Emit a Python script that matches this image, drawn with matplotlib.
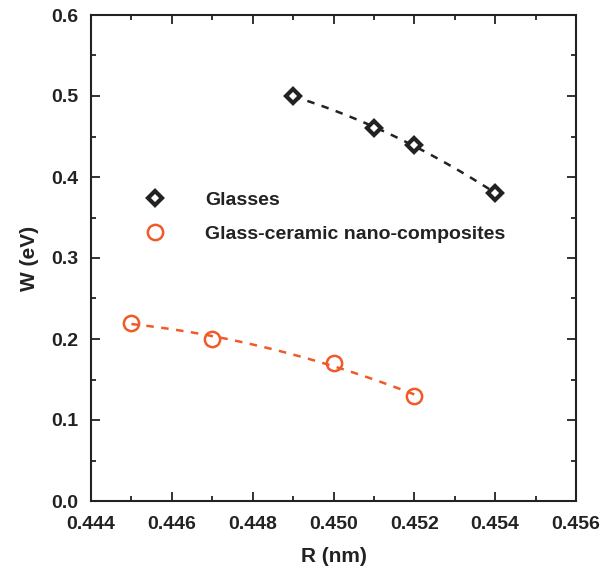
import numpy as np
import matplotlib.pyplot as plt
from matplotlib.ticker import MultipleLocator

# Data
r_glass = [0.449, 0.451, 0.452, 0.454]
w_glass = [0.50, 0.46, 0.44, 0.38]
r_nano = [0.445, 0.447, 0.450, 0.452]
w_nano = [0.22, 0.20, 0.17, 0.13]

black = "#222222"
orange = "#f05a28"

plt.rcParams["font.family"] = ["Liberation Sans", "DejaVu Sans"]
plt.rcParams["font.weight"] = "bold"

fig = plt.figure(figsize=(6.08, 5.68), dpi=100)
ax = fig.add_axes([91 / 608, 1 - 501 / 568, (576 - 91) / 608, (501 - 15) / 568])

# dashed quadratic trend lines through each series
for r, w, c in [(r_glass, w_glass, black), (r_nano, w_nano, orange)]:
    coef = np.polyfit(r, w, 2)
    rr = np.linspace(min(r), max(r), 100)
    ax.plot(rr, np.polyval(coef, rr), linestyle=(0, (3, 3)), color=c, linewidth=1.8)

ax.plot(r_glass, w_glass, linestyle="none", marker="D", markersize=7.5,
        markerfacecolor="white", markeredgecolor=black, markeredgewidth=3.0,
        label="Glasses")
ax.plot(r_nano, w_nano, linestyle="none", marker="o", markersize=11,
        markerfacecolor="none", markeredgecolor=orange, markeredgewidth=1.8,
        label="Glass-ceramic nano-composites")

ax.set_xlim(0.444, 0.456)
ax.set_ylim(0.0, 0.6)
ax.xaxis.set_major_locator(MultipleLocator(0.002))
ax.xaxis.set_minor_locator(MultipleLocator(0.001))
ax.yaxis.set_major_locator(MultipleLocator(0.1))
ax.yaxis.set_minor_locator(MultipleLocator(0.05))
ax.set_xticklabels([f"{v:.3f}" for v in ax.get_xticks()])
ax.set_yticklabels([f"{v:.1f}" for v in ax.get_yticks()])

ax.tick_params(which="both", direction="in", top=True, right=True,
               color=black, width=1.3, labelsize=14, labelcolor=black)
ax.tick_params(axis="x", pad=11)
ax.tick_params(axis="y", pad=9)
ax.tick_params(which="major", length=6.5)
ax.tick_params(which="minor", length=3.5)
for s in ax.spines.values():
    s.set_linewidth(1.5)
    s.set_color(black)

ax.set_xlabel("R (nm)", fontsize=15, fontweight="bold", color=black, labelpad=10)
ax.set_ylabel("W (eV)", fontsize=15, fontweight="bold", color=black, labelpad=9)

ax.legend(loc="upper left", bbox_to_anchor=(0.075, 0.673), frameon=False,
          fontsize=14, handlelength=1.0, handletextpad=2.1, labelspacing=0.85,
          markerscale=1.0)
for t in ax.get_legend().get_texts():
    t.set_color(black)

fig.savefig("out.png", dpi=100)
